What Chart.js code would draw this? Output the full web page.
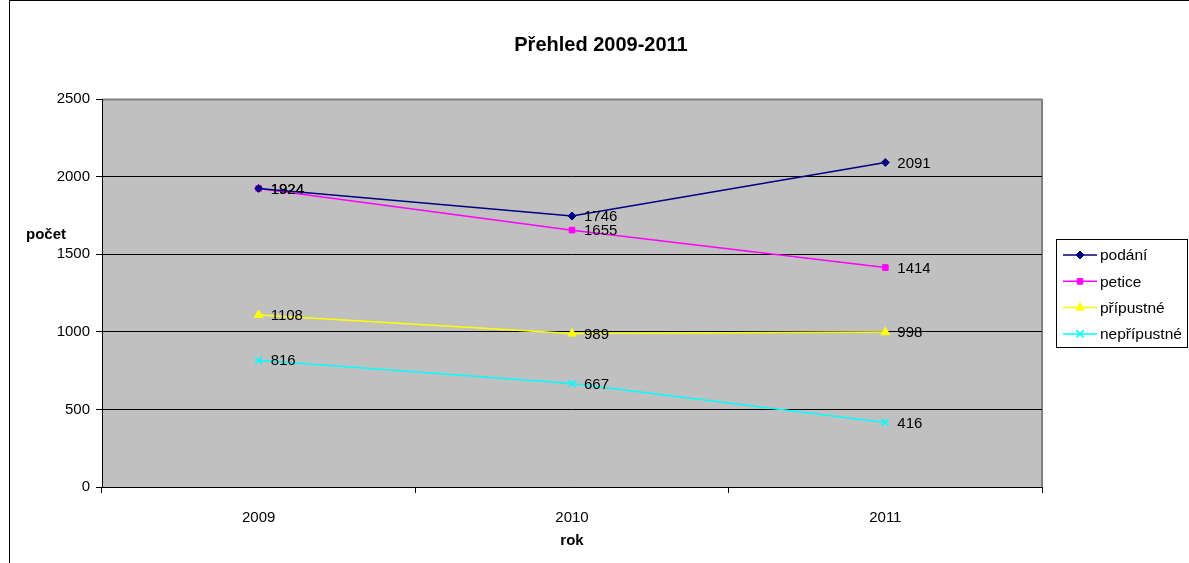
<!DOCTYPE html>
<html>
<head>
<meta charset="utf-8">
<script src="https://cdn.jsdelivr.net/npm/chart.js@4"></script>
<style>
  html, body { margin: 0; padding: 0; background: #fff; }
  #wrap { width: 1189px; height: 563px; position: relative; }
</style>
</head>
<body>
<div id="wrap"><canvas id="chart" width="1189" height="563"></canvas></div>
<script>
// data
var years = ['2009', '2010', '2011'];
var podani = [1924, 1746, 2091];
var petice = [1924, 1655, 1414];
var pripustne = [1108, 989, 998];
var nepripustne = [816, 667, 416];
var yTicks = [0, 500, 1000, 1500, 2000, 2500];

var FONT = 'Arial, "Liberation Sans", sans-serif';

// frame, plot background, titles
var decor = {
    id: 'decor',
    beforeDraw: function (chart) {
        var ctx = chart.ctx, a = chart.chartArea;
        ctx.save();
        ctx.strokeStyle = '#000';
        ctx.lineWidth = 1;
        ctx.strokeRect(9.5, 0.5, 1300, 700);
        ctx.fillStyle = '#C0C0C0';
        ctx.fillRect(a.left, a.top, a.right - a.left, a.bottom - a.top);
        ctx.strokeStyle = '#808080';
        ctx.lineWidth = 2;
        ctx.beginPath();
        ctx.moveTo(a.left, a.top + 0.5);
        ctx.lineTo(a.right, a.top + 0.5);
        ctx.moveTo(a.right, a.top);
        ctx.lineTo(a.right, a.bottom);
        ctx.stroke();

        ctx.fillStyle = '#000';
        ctx.textAlign = 'center';
        ctx.textBaseline = 'middle';
        ctx.font = 'bold 20px ' + FONT;
        ctx.fillText('Přehled 2009-2011', 601, 45);
        ctx.font = 'bold 15px ' + FONT;
        ctx.fillText('rok', (a.left + a.right) / 2, 541);
        ctx.textAlign = 'left';
        ctx.fillText('počet', 26, 235);
        ctx.restore();
    }
};

// value labels next to each point
var valueLabels = {
    id: 'valueLabels',
    afterDatasetsDraw: function (chart) {
        var ctx = chart.ctx;
        ctx.save();
        ctx.fillStyle = '#000';
        ctx.font = '15px ' + FONT;
        ctx.textAlign = 'left';
        ctx.textBaseline = 'middle';
        chart.data.datasets.forEach(function (ds, i) {
            chart.getDatasetMeta(i).data.forEach(function (pt, j) {
                ctx.fillText(String(ds.data[j]), pt.x + 12, pt.y + 1);
            });
        });
        ctx.restore();
    }
};

// boxed legend on the right
var boxLegend = {
    id: 'boxLegend',
    afterDraw: function (chart) {
        var ctx = chart.ctx;
        var x0 = 1056, y0 = 239, w = 131, h = 108;
        ctx.save();
        ctx.fillStyle = '#fff';
        ctx.fillRect(x0, y0, w, h);
        ctx.strokeStyle = '#000';
        ctx.lineWidth = 1;
        ctx.strokeRect(x0 + 0.5, y0 + 0.5, w, h);
        ctx.font = '15.5px ' + FONT;
        ctx.textBaseline = 'middle';
        chart.data.datasets.forEach(function (ds, i) {
            var y = 255 + i * 26.3;
            ctx.strokeStyle = ds.borderColor;
            ctx.fillStyle = ds.borderColor;
            ctx.lineWidth = 1.5;
            ctx.beginPath();
            ctx.moveTo(1063, y);
            ctx.lineTo(1097, y);
            ctx.stroke();
            ctx.lineWidth = ds.pointBorderWidth || 1;
            Chart.helpers.drawPoint(ctx, {
                pointStyle: ds.pointStyle,
                radius: ds.pointRadius,
                borderWidth: ds.pointBorderWidth || 1
            }, 1080, y);
            ctx.fillStyle = '#000';
            ctx.fillText(ds.label, 1100, y + 1);
        });
        ctx.restore();
    }
};

function series(label, data, color, style, radius) {
    return {
        label: label,
        data: data,
        borderColor: color,
        backgroundColor: color,
        pointBackgroundColor: color,
        pointBorderColor: color,
        borderWidth: 1.5,
        pointStyle: style,
        pointRadius: radius,
        pointBorderWidth: style === 'crossRot' ? 1.5 : 1,
        tension: 0
    };
}

new Chart(document.getElementById('chart'), {
    type: 'line',
    data: {
        labels: years,
        datasets: [
            series('podání', podani, '#000080', 'rectRot', 4),
            series('petice', petice, '#FF00FF', 'rect', 4),
            series('přípustné', pripustne, '#FFFF00', 'triangle', 5),
            series('nepřípustné', nepripustne, '#00FFFF', 'crossRot', 5)
        ]
    },
    options: {
        responsive: false,
        animation: false,
        layout: { padding: { left: 0, top: 99, right: 147, bottom: 0 } },
        plugins: {
            legend: { display: false },
            title: { display: false },
            tooltip: { enabled: false }
        },
        scales: {
            x: {
                offset: true,
                grid: { offset: true, drawOnChartArea: false, drawTicks: true, tickLength: 6, color: '#000' },
                border: { color: '#000', width: 1 },
                ticks: { color: '#000', font: { family: FONT, size: 15 }, padding: 16 },
                afterFit: function (s) { s.height = 76; }
            },
            y: {
                min: 0,
                max: 2500,
                afterBuildTicks: function (s) { s.ticks = yTicks.map(function (v) { return { value: v }; }); },
                grid: {
                    color: function (c) { return c.tick && c.tick.value === 2500 ? 'rgba(0,0,0,0)' : '#000'; },
                    tickColor: '#000',
                    tickLength: 6
                },
                border: { color: '#000', width: 1 },
                ticks: {
                    color: '#000',
                    font: { family: FONT, size: 15 },
                    padding: 6,
                    callback: function (v) { return String(v); }
                },
                afterFit: function (s) { s.width = 102; }
            }
        }
    },
    plugins: [decor, valueLabels, boxLegend]
});
</script>
</body>
</html>
